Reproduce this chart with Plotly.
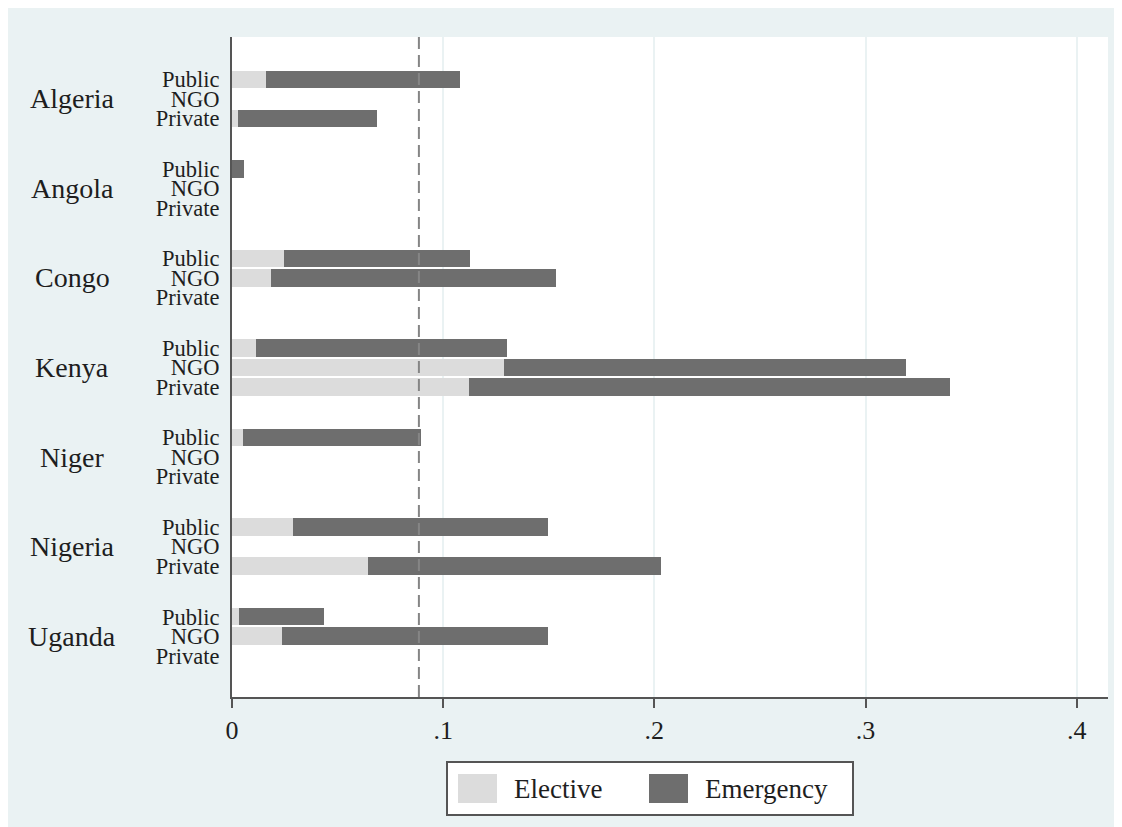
import plotly.graph_objects as go

# ---------------- data ----------------
countries = ["Algeria", "Angola", "Congo", "Kenya", "Niger", "Nigeria", "Uganda"]
types = ["Public", "NGO", "Private"]

elective_public = [0.0163, 0.0, 0.0248, 0.0115, 0.0054, 0.0291, 0.0035]
elective_ngo = [None, None, 0.0186, 0.1290, None, None, 0.0239]
elective_private = [0.0028, None, None, 0.1124, None, 0.0646, None]

emergency_public = [0.0917, 0.0059, 0.0881, 0.1189, 0.0841, 0.1207, 0.0401]
emergency_ngo = [None, None, 0.1350, 0.1900, None, None, 0.1259]
emergency_private = [0.0660, None, None, 0.2274, None, 0.1387, None]

reference_line = 0.0885

x_tickvals = [0, 0.1, 0.2, 0.3, 0.4]
x_ticktext = ["0", ".1", ".2", ".3", ".4"]

legend_labels = ["Elective", "Emergency"]

# ---------------- layout helpers ----------------
W, H = 1122, 827
OFF = 8  # page body margin
L, R, T, B = 232 - OFF, 1108 - OFF, 37 - OFF, 697 - OFF
GROUP_STEP = 4.593  # rows per country group (3 bars + gap)

def xp(px):  # screenshot px -> paper
    return (px - OFF - L) / (R - L)

def yp(py):
    return (B - (py - OFF)) / (B - T)

FONT = "Liberation Serif, Times New Roman, serif"
LIGHT = "#DCDCDC"
DARK = "#6E6E6E"
AXIS = "#555555"
TXT = "#1E1E1E"

# row positions
pos, ticktext, el_vals, em_vals = [], [], [], []
el_by_type = [elective_public, elective_ngo, elective_private]
em_by_type = [emergency_public, emergency_ngo, emergency_private]
for gi, c in enumerate(countries):
    for ti, t in enumerate(types):
        pos.append(gi * GROUP_STEP + ti)
        ticktext.append(t)
        el_vals.append(el_by_type[ti][gi])
        em_vals.append(em_by_type[ti][gi])

fig = go.Figure()
fig.add_trace(go.Bar(orientation="h", y=pos, x=el_vals, name="Elective",
                     marker=dict(color=LIGHT, line=dict(width=0)), width=0.89,
                     showlegend=False))
fig.add_trace(go.Bar(orientation="h", y=pos, x=em_vals, name="Emergency",
                     marker=dict(color=DARK, line=dict(width=0)), width=0.89,
                     showlegend=False))

shapes = []
# reference dashed line
shapes.append(dict(type="line", xref="x", yref="paper", layer="above",
                   x0=reference_line, x1=reference_line, y0=0, y1=1,
                   line=dict(color="#858585", width=2, dash="12px,6px")))
# manual legend
shapes.append(dict(type="rect", xref="paper", yref="paper",
                   x0=xp(447), x1=xp(853), y0=yp(815), y1=yp(762),
                   fillcolor="white", line=dict(color=AXIS, width=2)))
shapes.append(dict(type="rect", xref="paper", yref="paper",
                   x0=xp(458), x1=xp(497), y0=yp(803), y1=yp(774),
                   fillcolor=LIGHT, line=dict(width=0)))
shapes.append(dict(type="rect", xref="paper", yref="paper",
                   x0=xp(649), x1=xp(688), y0=yp(803), y1=yp(774),
                   fillcolor=DARK, line=dict(width=0)))

annotations = []
for gi, c in enumerate(countries):
    annotations.append(dict(text=c, xref="paper", yref="y", x=xp(72),
                            y=gi * GROUP_STEP + 1, xanchor="center",
                            yanchor="middle", showarrow=False,
                            font=dict(family=FONT, size=28, color=TXT)))
annotations.append(dict(text=legend_labels[0], xref="paper", yref="paper",
                        x=xp(512), y=yp(789), xanchor="left", yanchor="middle",
                        showarrow=False, font=dict(family=FONT, size=27, color=TXT)))
annotations.append(dict(text=legend_labels[1], xref="paper", yref="paper",
                        x=xp(703), y=yp(789), xanchor="left", yanchor="middle",
                        showarrow=False, font=dict(family=FONT, size=27, color=TXT)))

last = (len(countries) - 1) * GROUP_STEP + 2
fig.update_layout(
    width=W, height=H, autosize=False,
    margin=dict(l=L, r=W - R, t=T, b=H - B, pad=0),
    barmode="stack", bargap=0,
    paper_bgcolor="#EAF2F3", plot_bgcolor="white",
    font=dict(family=FONT, color=TXT),
    shapes=shapes, annotations=annotations,
    showlegend=False,
    xaxis=dict(range=[0, 0.4148], tickvals=x_tickvals, ticktext=x_ticktext,
               ticks="outside", ticklen=9, tickwidth=2, tickcolor=AXIS,
               showline=True, linecolor=AXIS, linewidth=2,
               showgrid=True, gridcolor="#EAF2F3", gridwidth=2,
               zeroline=False, tickfont=dict(family=FONT, size=26, color=TXT),
               fixedrange=True),
    yaxis=dict(range=[last + 2.12, -2.17], tickvals=pos, ticktext=ticktext,
               ticks="", showline=True, linecolor=AXIS, linewidth=2,
               showgrid=False, zeroline=False, ticklabelstandoff=6,
               tickfont=dict(family=FONT, size=22.5, color=TXT), fixedrange=True),
)

fig.write_html("out.html")
